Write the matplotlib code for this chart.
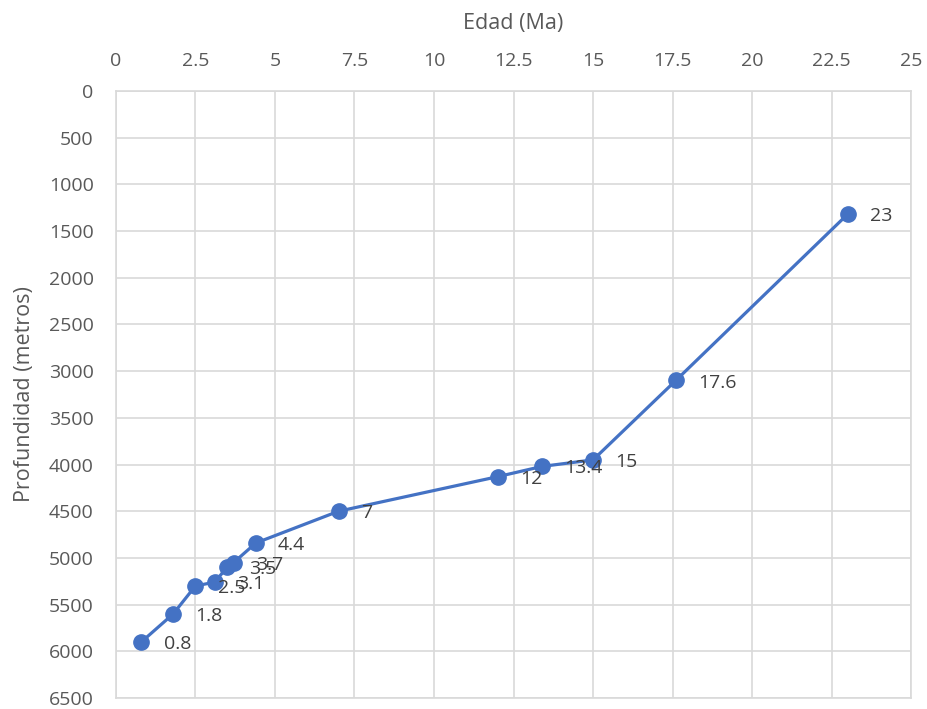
import matplotlib
matplotlib.use("Agg")
import matplotlib.pyplot as plt

# Age (Ma) vs. depth (m)
edad = [0.8, 1.8, 2.5, 3.1, 3.5, 3.7, 4.4, 7, 12, 13.4, 15, 17.6, 23]
profundidad = [5900, 5600, 5300, 5260, 5100, 5050, 4840, 4500, 4130, 4020, 3950, 3100, 1320]
etiquetas = ["0.8", "1.8", "2.5", "3.1", "3.5", "3.7", "4.4", "7", "12", "13.4", "15", "17.6", "23"]

x_ticks = [0, 2.5, 5, 7.5, 10, 12.5, 15, 17.5, 20, 22.5, 25]
x_tick_labels = ["0", "2.5", "5", "7.5", "10", "12.5", "15", "17.5", "20", "22.5", "25"]
y_ticks = list(range(0, 7000, 500))

plt.rcParams["font.family"] = ["Open Sans", "DejaVu Sans"]
texto = "#595959"
etiqueta_color = "#404040"
azul = "#4472C4"

fig = plt.figure(figsize=(9.27, 7.09), dpi=100)
ax = fig.add_axes([0.125, 0.0155, 0.858, 0.8562])

ax.plot(edad, profundidad, color=azul, lw=2.3, marker="o", ms=11,
        markerfacecolor=azul, markeredgecolor=azul, zorder=3)

for x, y, t in zip(edad, profundidad, etiquetas):
    ax.annotate(t, (x, y), xytext=(16, -1.5), textcoords="offset points",
                ha="left", va="center", fontsize=14, color=etiqueta_color, zorder=4)

ax.set_xlim(0, 25)
ax.set_ylim(6500, 0)
ax.set_xticks(x_ticks)
ax.set_xticklabels(x_tick_labels)
ax.set_yticks(y_ticks)
ax.xaxis.tick_top()
ax.xaxis.set_label_position("top")
ax.tick_params(axis="both", length=0, labelsize=14, colors=texto)
ax.tick_params(axis="x", pad=15)
ax.tick_params(axis="y", pad=16)

ax.grid(True, color="#D9D9D9", lw=1.2)
ax.set_axisbelow(True)
for side, sp in ax.spines.items():
    sp.set_color("#D9D9D9")
    sp.set_linewidth(1.2)

ax.set_xlabel("Edad (Ma)", fontsize=15.5, color=texto, labelpad=17)
ax.set_ylabel("Profundidad (metros)", fontsize=15.5, color=texto, labelpad=10)

fig.savefig("out.png", dpi=100)
